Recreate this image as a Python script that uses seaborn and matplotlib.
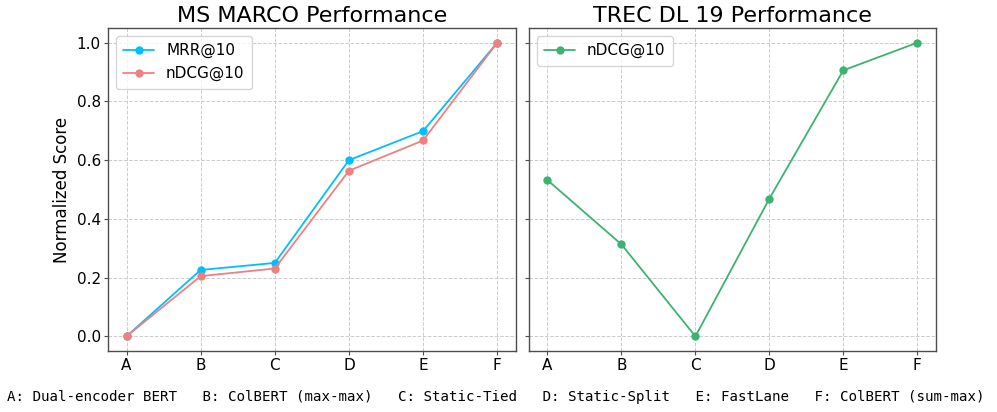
import matplotlib
matplotlib.use("Agg")
import matplotlib.pyplot as plt
import seaborn as sns
import pandas as pd

categories = ["A", "B", "C", "D", "E", "F"]
msmarco_mrr = [0.0, 0.226, 0.250, 0.600, 0.699, 1.0]
msmarco_ndcg = [0.0, 0.205, 0.231, 0.564, 0.667, 1.0]
trec_ndcg = [0.532, 0.313, 0.0, 0.469, 0.906, 1.0]
footnote = ("A: Dual-encoder BERT   B: ColBERT (max-max)   C: Static-Tied   "
            "D: Static-Split   E: FastLane   F: ColBERT (sum-max)")

sns.set_theme(style="whitegrid")
plt.rcParams['font.family'] = ['DejaVu Sans']
plt.rcParams['text.color'] = 'black'
plt.rcParams['axes.labelcolor'] = 'black'
plt.rcParams['xtick.color'] = 'black'
plt.rcParams['ytick.color'] = 'black'

fig = plt.figure(figsize=(9.97, 4.12), dpi=100)
ax1 = fig.add_axes([0.1083, 0.148, 0.409, 0.784])
ax2 = fig.add_axes([0.5306, 0.148, 0.408, 0.784], sharey=ax1)

df1 = pd.DataFrame({"cat": categories * 2,
                    "score": msmarco_mrr + msmarco_ndcg,
                    "metric": ["MRR@10"] * 6 + ["nDCG@10"] * 6})
df2 = pd.DataFrame({"cat": categories, "score": trec_ndcg,
                    "metric": ["nDCG@10"] * 6})

sns.lineplot(data=df1, x="cat", y="score", hue="metric", marker="o",
             palette={"MRR@10": "#00BFFF", "nDCG@10": "#F08080"},
             markersize=6, markeredgewidth=0, linewidth=1.3, ax=ax1, sort=False)
sns.lineplot(data=df2, x="cat", y="score", hue="metric", marker="o",
             palette={"nDCG@10": "#3CB371"},
             markersize=6, markeredgewidth=0, linewidth=1.3, ax=ax2, sort=False)

for ax, title in [(ax1, "MS MARCO Performance"), (ax2, "TREC DL 19 Performance")]:
    ax.set_title(title, fontsize=16, pad=4, color="black")
    ax.set_xlabel("")
    ax.grid(True, linestyle="--", color="#cccccc", linewidth=0.7)
    for s in ax.spines.values():
        s.set_edgecolor("#4d4d4d")
        s.set_linewidth(1.0)
    ax.tick_params(axis="both", which="both", length=2.6, width=0.8, color="#4d4d4d",
                   labelsize=11, labelcolor="black", bottom=True, left=True, pad=2.5)
    ax.set_xlim(-0.25, 5.25)
    leg = ax.legend(loc="upper left", fontsize=11, frameon=True, title=None,
                    borderpad=0.5, handlelength=2.0)
    for t in leg.get_texts():
        t.set_color("black")

ax1.set_ylim(-0.05, 1.05)
ax1.set_ylabel("Normalized Score", fontsize=12, color="black")
ax2.set_ylabel("")
plt.setp(ax2.get_yticklabels(), visible=False)

fig.text(0.007, 0.036, footnote, family="DejaVu Sans Mono", fontsize=10.2,
         ha="left", va="center", color="black")

fig.savefig("out.png", dpi=100)
